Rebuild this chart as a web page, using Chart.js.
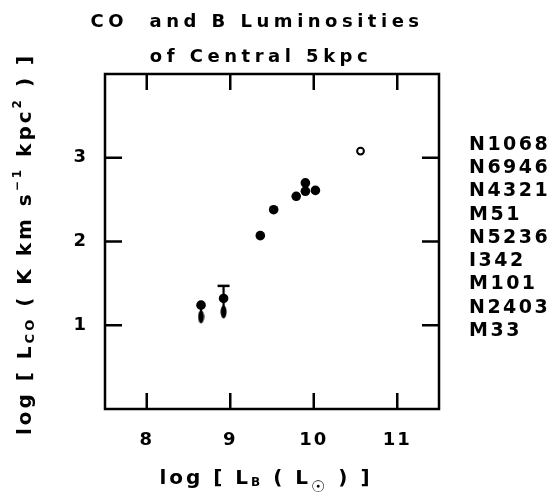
<!DOCTYPE html>
<html>
<head>
<meta charset="utf-8">
<script src="https://cdn.jsdelivr.net/npm/chart.js@4.4.1/dist/chart.umd.min.js"></script>
<style>
  body { margin: 0; background: #fff; }
  canvas { display: block; }
</style>
</head>
<body>
<canvas id="myChart" width="555" height="497"></canvas>
<script>
// galaxies, brightest first
const galaxies = ['N1068', 'N6946', 'N4321', 'M51', 'N5236', 'I342', 'M101', 'N2403', 'M33'];
const logLB = [10.56, 9.90, 10.02, 9.79, 9.90, 9.52, 9.36, 8.92, 8.65];
const logLCO = [3.08, 2.70, 2.61, 2.54, 2.60, 2.38, 2.07, 1.32, 1.24];
// open symbol (Seyfert) vs filled
const isOpen = [true, false, false, false, false, false, false, false, false];
// lower extension of the two faint ones, and the upper error cap
const tailLCO = [null, null, null, null, null, null, null, 1.16, 1.10];
const capLCO = [null, null, null, null, null, null, null, 1.47, null];

const xTickValues = [8, 9, 10, 11];
const yTickValues = [1, 2, 3];

const FONT = 'DejaVu Sans';

// elongated drop used for the tails
const drop = document.createElement('canvas');
drop.width = 7; drop.height = 14;
(function () {
  const c = drop.getContext('2d');
  c.fillStyle = '#000';
  c.beginPath();
  c.ellipse(3.5, 7, 3, 6.5, 0, 0, Math.PI * 2);
  c.fill();
})();

const filled = [], open = [], tails = [], caps = [], necks = [];
galaxies.forEach((g, i) => {
  const p = { x: logLB[i], y: logLCO[i] };
  (isOpen[i] ? open : filled).push(p);
  if (tailLCO[i] !== null) {
    tails.push({ x: logLB[i], y: tailLCO[i] });
    const top = capLCO[i] !== null ? capLCO[i] : logLCO[i];
    necks.push({
      type: 'line',
      data: [{ x: logLB[i], y: top }, { x: logLB[i], y: tailLCO[i] }],
      borderColor: '#000', borderWidth: 2.2, pointRadius: 0, fill: false
    });
  }
  if (capLCO[i] !== null) caps.push({ x: logLB[i], y: capLCO[i] });
});

function drawRuns(ctx, runs, cx, cy, angle, spacing) {
  ctx.save();
  ctx.translate(cx, cy);
  ctx.rotate(angle);
  ctx.letterSpacing = spacing + 'px';
  let total = 0;
  runs.forEach(r => {
    ctx.font = 'bold ' + r.s + 'px "' + FONT + '"';
    r.w = ctx.measureText(r.t).width;
    total += r.w;
  });
  let x = -total / 2;
  ctx.fillStyle = '#000';
  ctx.textBaseline = 'alphabetic';
  ctx.textAlign = 'left';
  runs.forEach(r => {
    ctx.font = 'bold ' + r.s + 'px "' + FONT + '"';
    ctx.fillText(r.t, x, 7 + (r.dy || 0));
    x += r.w;
  });
  ctx.restore();
}

const decor = {
  id: 'decor',
  beforeDraw(chart) {
    chart.ctx.letterSpacing = '2px';
  },
  afterDraw(chart) {
    const ctx = chart.ctx;
    const a = chart.chartArea;
    const xs = chart.scales.x, ys = chart.scales.y;
    ctx.save();
    ctx.strokeStyle = '#000';
    ctx.lineWidth = 2.5;
    ctx.strokeRect(a.left, a.top, a.right - a.left, a.bottom - a.top);
    ctx.beginPath();
    xTickValues.forEach(v => {
      const px = xs.getPixelForValue(v);
      ctx.moveTo(px, a.bottom); ctx.lineTo(px, a.bottom - 16);
      ctx.moveTo(px, a.top); ctx.lineTo(px, a.top + 16);
    });
    yTickValues.forEach(v => {
      const py = ys.getPixelForValue(v);
      ctx.moveTo(a.left, py); ctx.lineTo(a.left + 17, py);
      ctx.moveTo(a.right, py); ctx.lineTo(a.right - 17, py);
    });
    ctx.stroke();
    ctx.restore();

    // title
    drawRuns(ctx, [{ t: 'CO  and B Luminosities', s: 18 }], 257, 20, 0, 4.5);
    drawRuns(ctx, [{ t: 'of Central 5kpc', s: 18 }], 261, 55, 0, 4.5);

    // y axis title
    drawRuns(ctx, [
      { t: 'log [ L', s: 20 },
      { t: 'CO', s: 13, dy: 3 },
      { t: ' ( K km s', s: 20 },
      { t: '−1', s: 12, dy: -10 },
      { t: ' kpc', s: 20 },
      { t: '2', s: 12, dy: -10 },
      { t: ' ) ]', s: 20 }
    ], 24, 244, -Math.PI / 2, 3);

    // x axis title
    drawRuns(ctx, [
      { t: 'log [ L', s: 20 },
      { t: 'B', s: 12, dy: 2 },
      { t: ' ( L', s: 20 },
      { t: '☉', s: 16, dy: 8 },
      { t: ' ) ]', s: 20 }
    ], 266, 477, 0, 3);

    // galaxy names
    ctx.save();
    ctx.letterSpacing = '2.5px';
    ctx.font = 'bold 19px "' + FONT + '"';
    ctx.fillStyle = '#000';
    ctx.textBaseline = 'middle';
    ctx.textAlign = 'left';
    galaxies.forEach((g, i) => ctx.fillText(g, 469, 145 + i * 23.25));
    ctx.restore();
  }
};

const tickFont = { family: FONT, size: 18, weight: 'bold' };

new Chart('myChart', {
  type: 'scatter',
  data: {
    datasets: [
      ...necks,
      { data: filled, pointRadius: 4.8, backgroundColor: '#000', borderColor: '#000', borderWidth: 0 },
      { data: open, pointRadius: 3.4, backgroundColor: '#fff', borderColor: '#000', borderWidth: 2 },
      { data: tails, pointStyle: drop },
      { data: caps, pointStyle: 'line', pointRadius: 6, borderColor: '#000', borderWidth: 2.5 }
    ]
  },
  options: {
    responsive: false,
    animation: false,
    devicePixelRatio: 1,
    layout: { padding: { top: 74, right: 116, left: 0, bottom: 0 } },
    plugins: { legend: { display: false }, tooltip: { enabled: false } },
    scales: {
      x: {
        type: 'linear', min: 7.5, max: 11.5,
        grid: { display: false, drawTicks: false },
        border: { display: false },
        ticks: { font: tickFont, color: '#000', padding: 21 },
        afterBuildTicks: s => { s.ticks = xTickValues.map(v => ({ value: v })); },
        afterFit: s => { s.height = 88; }
      },
      y: {
        type: 'linear', min: 0, max: 4,
        grid: { display: false, drawTicks: false },
        border: { display: false },
        ticks: { font: tickFont, color: '#000', padding: 17 },
        afterBuildTicks: s => { s.ticks = yTickValues.map(v => ({ value: v })); },
        afterFit: s => { s.width = 105; }
      }
    }
  },
  plugins: [decor]
});
</script>
</body>
</html>
